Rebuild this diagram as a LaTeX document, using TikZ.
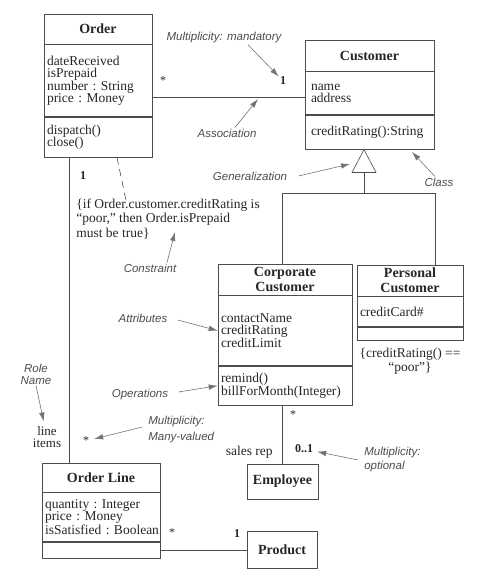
\documentclass[tikz,border=0pt]{standalone}
\usepackage{fontspec}
\setmainfont{Liberation Serif}
\setsansfont{Liberation Sans}
\usetikzlibrary{positioning,arrows.meta}

\begin{document}
\begin{tikzpicture}[x=1pt, y=-1pt, line width=0.6pt, color=black!70, text=black!85,
    title/.style={draw, minimum width=#1, inner sep=0pt, align=center,
      font=\bfseries\fontsize{14}{15}\selectfont},
    comp/.style={draw, text width=#1, inner xsep=3pt, inner ysep=0pt, align=left,
      font=\fontsize{13.5}{12.4}\selectfont},
    mult/.style={inner sep=1pt, font=\fontsize{12}{12}\selectfont},
    lbl/.style={inner sep=1pt, align=center, text=black!70,
      font=\sffamily\itshape\fontsize{11.5}{12}\selectfont},
    note/.style={-{Latex[length=9pt,width=5.5pt]}, color=black!55},
    txt/.style={inner sep=1pt, font=\fontsize{13.5}{14.5}\selectfont}]
  \useasboundingbox (0,0) rectangle (486,581);

  %classes
  \node[title=108, minimum height=30] (order) at (98,29) {Order};
  \node[comp=102pt, minimum height=72, below=0pt of order] (orderattr)
    {dateReceived\\isPrepaid\\number~:~String\\price~:~Money};
  \node[comp=102pt, minimum height=40, below=0pt of orderattr] (orderops)
    {dispatch()\\close()};

  \node[title=129, minimum height=31] (cust) at (369.5,55.5) {Customer};
  \node[comp=117pt, inner xsep=6pt, minimum height=43, below=0pt of cust] (custattr)
    {name\\address};
  \node[comp=117pt, inner xsep=6pt, minimum height=34, below=0pt of custattr] (custops)
    {creditRating():String};

  \node[title=134, minimum height=31] (corp) at (285,279.5) {Corporate\\Customer};
  \node[comp=128pt, minimum height=70, below=0pt of corp] (corpattr)
    {contactName\\creditRating\\creditLimit};
  \node[comp=128pt, minimum height=39, below=0pt of corpattr] (corpops)
    {remind()\\billForMonth(Integer)};

  \node[title=106, minimum height=31] (pers) at (410,280.5) {Personal\\Customer};
  \node[comp=100pt, minimum height=30, below=0pt of pers] (persattr) {creditCard\#};
  \node[comp=100pt, minimum height=13, below=0pt of persattr] (persops) {};

  \node[title=118, minimum height=29] (oline) at (101,477.5) {Order Line};
  \node[comp=112pt, minimum height=49, below=0pt of oline] (olineattr)
    {quantity~:~Integer\\price~:~Money\\isSatisfied~:~Boolean};
  \node[comp=112pt, minimum height=16, below=0pt of olineattr] (olineops) {};

  \node[title=71, minimum height=35] (emp) at (282.5,481.5) {Employee};
  \node[title=70, minimum height=37] (prod) at (282,549.5) {Product};

  %constraints
  \node[txt, anchor=west, align=left] (ifnote) at (75,219)
    {\{if Order.customer.creditRating is\\``poor,'' then Order.isPrepaid\\must be true\}};
  \node[txt, align=center] (persnote) at (410,361) {\{creditRating() ==\\``poor''\}};

  %associations
  \draw ([yshift=-4.5pt]custattr.west) -- ([yshift=-4.5pt]custattr.west -| orderattr.east);
  \draw ([xshift=-29pt]orderops.south) -- ([xshift=-29pt]orderops.south |- oline.north);
  \draw ([xshift=-3pt]corpops.south) -- ([xshift=-3pt]corpops.south |- emp.north);
  \draw (olineops.east) -- (olineops.east -| prod.west);
  \draw[dash pattern=on 7pt off 5pt] ([xshift=19pt]orderops.south) -- ([xshift=51pt,yshift=-3pt]ifnote.north west);

  %generalization
  \coordinate (gtip) at ([xshift=-5.5pt]custops.south);
  \draw (gtip) -- ++(-12,23) -- ++(24,0) -- cycle;
  \draw ([yshift=-23pt]gtip) -- ++(0,21) coordinate (gjoin);
  \draw ([xshift=-3pt]corp.north) |- (gjoin) -| ([xshift=25pt]pers.north);

  %multiplicities and roles
  \node[mult] (ordstar) at (163,81) {*};
  \node[mult, font=\bfseries\fontsize{12}{12}\selectfont] (custone) at (283,81) {1};
  \node[mult, font=\bfseries\fontsize{12}{12}\selectfont] (ordone) at (83,176) {1};
  \node[mult, inner sep=0pt, font=\fontsize{13}{11.5}\selectfont, align=center] (items) at (47,437) {line\\items};
  \node[mult] (olstar) at (86,441) {*};
  \node[mult] (corpstar) at (293,415) {*};
  \node[mult, font=\bfseries\fontsize{12}{12}\selectfont] (empone) at (304,449) {0..1};
  \node[mult, font=\fontsize{13.5}{14}\selectfont, anchor=east] (salesrep) at (274,452) {sales rep};
  \node[mult] (prodstar) at (172,533) {*};
  \node[mult, font=\bfseries\fontsize{12}{12}\selectfont] (prodone) at (237,534) {1};

  %annotations
  \node[lbl] (mandlbl) at (224,38) {Multiplicity: mandatory};
  \node[lbl] (assoclbl) at (227,133) {Association};
  \node[lbl] (genlbl) at (250,176) {Generalization};
  \node[lbl] (classlbl) at (439,182) {Class};
  \node[lbl] (conlbl) at (150,268) {Constraint};
  \node[lbl] (attrlbl) at (143,318) {Attributes};
  \node[lbl] (rolelbl) at (36,374) {Role\\Name};
  \node[lbl] (opslbl) at (140,395) {Operations};
  \node[lbl, align=left, anchor=west, font=\sffamily\itshape\fontsize{11.5}{16}\selectfont] (manylbl) at (147,430) {Multiplicity:\\Many-valued};
  \node[lbl, align=left, anchor=west, font=\sffamily\itshape\fontsize{11.5}{14}\selectfont] (optlbl) at (363,460) {Multiplicity:\\optional};

  \coordinate (assocpt) at (258,99);
  \coordinate (genpt) at (350,164);
  \coordinate (classpt) at (412,152);
  \coordinate (conpt) at (175,232);

  \draw[note] ([xshift=24pt]mandlbl.south) -- (custone);
  \draw[note] ([xshift=8pt]assoclbl.north) -- (assocpt);
  \draw[note] ([xshift=10pt]genlbl.east) -- (genpt);
  \draw[note] ([xshift=-4pt]classlbl.north) -- (classpt);
  \draw[note] ([xshift=17pt]conlbl.north) -- (conpt);
  \draw[note] ([xshift=9pt,yshift=-2pt]attrlbl.east) -- (corpattr.west);
  \draw[note] ([xshift=9pt,yshift=3pt]opslbl.east) -- (corpops.west);
  \draw[note, shorten >=5pt] (rolelbl.south) -- (items);
  \draw[note, shorten >=4pt] ([xshift=-5pt,yshift=3pt]manylbl.west) -- (olstar);
  \draw[note, shorten >=3pt] ([xshift=-5pt]optlbl.west) -- (empone);
\end{tikzpicture}
\end{document}
